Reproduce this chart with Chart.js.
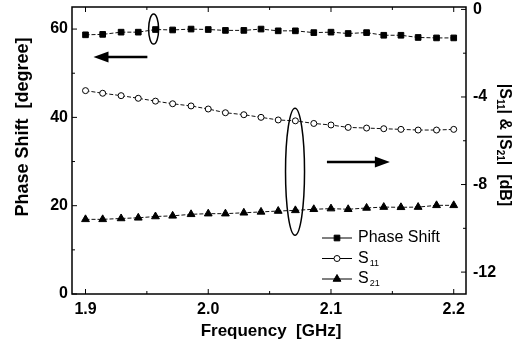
<!DOCTYPE html>
<html>
<head>
<meta charset="utf-8">
<script src="https://cdn.jsdelivr.net/npm/chart.js@4.4.0/dist/chart.umd.min.js"></script>
<style>
  html, body { margin: 0; padding: 0; background: #fff; }
  #wrap { width: 523px; height: 347px; position: relative; }
</style>
</head>
<body>
<div id="wrap"><canvas id="myChart"></canvas></div>
<script>
// frequency points (GHz)
const freqs = [1.900, 1.914, 1.929, 1.943, 1.957, 1.971, 1.986, 2.000, 2.014, 2.029, 2.043,
               2.057, 2.071, 2.086, 2.100, 2.114, 2.129, 2.143, 2.157, 2.171, 2.186, 2.200];
// phase shift, degree (left axis)
const phaseShift = [58.7, 58.8, 59.3, 59.3, 59.9, 59.8, 60.0, 59.9, 59.7, 59.7, 60.0,
                    59.6, 59.6, 59.2, 59.3, 59.0, 59.2, 58.6, 58.6, 58.1, 58.0, 58.0];
// |S11| dB (right axis)
const s11 = [-3.71, -3.83, -3.94, -4.06, -4.19, -4.31, -4.41, -4.55, -4.72, -4.81, -4.93,
             -5.05, -5.09, -5.21, -5.28, -5.39, -5.42, -5.45, -5.48, -5.51, -5.51, -5.48];
// |S21| dB (right axis)
const s21 = [-9.59, -9.59, -9.55, -9.52, -9.46, -9.43, -9.36, -9.33, -9.33, -9.29, -9.25,
             -9.21, -9.18, -9.13, -9.10, -9.13, -9.07, -9.03, -9.04, -9.03, -8.95, -8.95];

const xTicks = [1.9, 1.95, 2.0, 2.05, 2.1, 2.15, 2.2];
const leftTicks = [0, 10, 20, 30, 40, 50, 60];
const rightTicks = [0, -2, -4, -6, -8, -10, -12];

const FONT = "'Liberation Sans', Arial, sans-serif";

function pts(ys) {
    return freqs.map((f, i) => ({ x: f, y: ys[i] }));
}

function fixTicks(list) {
    return (scale) => { scale.ticks = list.map(v => ({ value: v })); };
}

// keep the plot box where the reference has it
function fitY(w) {
    return (s) => { s.width = w; s.paddingTop = 0; s.paddingBottom = 0; };
}

// frame, inward ticks, titles, custom legend, annotations
const decor = {
    id: 'decor',
    afterDraw(chart) {
        const ctx = chart.ctx;
        const a = chart.chartArea;
        const x = chart.scales.x, yl = chart.scales.y, yr = chart.scales.y2;
        ctx.save();
        ctx.strokeStyle = '#000';
        ctx.fillStyle = '#000';

        // box
        ctx.lineWidth = 1.5;
        ctx.strokeRect(a.left, a.top, a.right - a.left, a.bottom - a.top);

        // ticks pointing in
        ctx.lineWidth = 1;
        ctx.beginPath();
        xTicks.forEach(v => {
            const px = x.getPixelForValue(v);
            const len = Math.abs(v * 10 - Math.round(v * 10)) < 1e-6 ? 5 : 3;
            ctx.moveTo(px, a.bottom); ctx.lineTo(px, a.bottom - len);
            ctx.moveTo(px, a.top); ctx.lineTo(px, a.top + len);
        });
        leftTicks.forEach(v => {
            const py = yl.getPixelForValue(v);
            ctx.moveTo(a.left, py); ctx.lineTo(a.left + (v % 20 === 0 ? 5 : 3), py);
        });
        rightTicks.forEach(v => {
            const py = yr.getPixelForValue(v);
            ctx.moveTo(a.right, py); ctx.lineTo(a.right - (v % 4 === 0 ? 5 : 3), py);
        });
        ctx.stroke();

        // axis titles
        ctx.font = 'bold 17px ' + FONT;
        ctx.textAlign = 'center';
        ctx.textBaseline = 'middle';
        ctx.fillText('Frequency  [GHz]', (a.left + a.right) / 2 + 2, 331);

        ctx.save();
        ctx.translate(23, 127);
        ctx.rotate(-Math.PI / 2);
        ctx.font = 'bold 18px ' + FONT;
        ctx.fillText('Phase Shift  [degree]', 0, 0);
        ctx.restore();

        // right title with subscripts, reading top to bottom
        const parts = [['|S', 0], ['11', 1], ['| & |S', 0], ['21', 1], ['|  [dB]', 0]];
        const mainF = 'bold 16px ' + FONT, subF = 'bold 10px ' + FONT;
        let total = 0;
        parts.forEach(p => { ctx.font = p[1] ? subF : mainF; total += ctx.measureText(p[0]).width; });
        ctx.save();
        ctx.translate(504, 145);
        ctx.rotate(Math.PI / 2);
        ctx.textAlign = 'left';
        let cx = -total / 2;
        parts.forEach(p => {
            ctx.font = p[1] ? subF : mainF;
            ctx.fillText(p[0], cx, p[1] ? 4 : 0);
            cx += ctx.measureText(p[0]).width;
        });
        ctx.restore();

        // legend
        const rows = [238, 258.5, 279];
        chart.data.datasets.forEach((ds, i) => {
            const ry = rows[i];
            ctx.lineWidth = 1;
            ctx.strokeStyle = '#000';
            ctx.beginPath();
            ctx.moveTo(322, ry); ctx.lineTo(352, ry);
            ctx.stroke();
            ctx.fillStyle = ds.pointBackgroundColor;
            Chart.helpers.drawPoint(ctx, {
                pointStyle: ds.pointStyle, radius: ds.pointRadius,
                rotation: 0, borderWidth: ds.pointBorderWidth
            }, 337, ry);
            ctx.fillStyle = '#000';
            ctx.textAlign = 'left';
            ctx.textBaseline = 'middle';
            ctx.font = '16px ' + FONT;
            ctx.fillText(ds.label, 358, ry);
            if (ds.sub) {
                const w = ctx.measureText(ds.label).width;
                ctx.font = '9px ' + FONT;
                ctx.fillText(ds.sub, 358 + w + 1, ry + 5);
            }
        });

        // annotation ellipses and arrows
        ctx.lineWidth = 1.5;
        ctx.strokeStyle = '#000';
        ctx.beginPath();
        ctx.ellipse(x.getPixelForValue(1.9555), yl.getPixelForValue(60), 5, 15, 0, 0, Math.PI * 2);
        ctx.stroke();
        ctx.beginPath();
        ctx.ellipse(x.getPixelForValue(2.0707), yr.getPixelForValue(-7.41), 9.5, 63.5, 0, 0, Math.PI * 2);
        ctx.stroke();

        function arrow(x0, x1, py) {
            const dir = Math.sign(x1 - x0);
            ctx.lineWidth = 2.5;
            ctx.beginPath();
            ctx.moveTo(x0, py); ctx.lineTo(x1 - dir * 12, py);
            ctx.stroke();
            ctx.beginPath();
            ctx.moveTo(x1, py);
            ctx.lineTo(x1 - dir * 15, py - 5.5);
            ctx.lineTo(x1 - dir * 15, py + 5.5);
            ctx.closePath();
            ctx.fill();
        }
        ctx.fillStyle = '#000';
        arrow(x.getPixelForValue(1.9504), x.getPixelForValue(1.9065), yl.getPixelForValue(53.7));
        arrow(x.getPixelForValue(2.0967), x.getPixelForValue(2.148), yr.getPixelForValue(-6.97));

        ctx.restore();
    }
};

const tickFont = { family: FONT, size: 16, weight: 'bold' };
const noGrid = { display: false, drawTicks: false };

new Chart('myChart', {
    type: 'line',
    data: {
        datasets: [{
            label: 'Phase Shift',
            data: pts(phaseShift),
            yAxisID: 'y',
            borderColor: '#111',
            borderWidth: 1,
            borderDash: [4, 2],
            pointStyle: 'rect',
            pointRadius: 4,
            pointBorderWidth: 1,
            pointBackgroundColor: '#000',
            pointBorderColor: '#000'
        }, {
            label: 'S',
            sub: '11',
            data: pts(s11),
            yAxisID: 'y2',
            borderColor: '#111',
            borderWidth: 1,
            borderDash: [4, 2],
            pointStyle: 'circle',
            pointRadius: 3,
            pointBorderWidth: 1,
            pointBackgroundColor: '#fff',
            pointBorderColor: '#000'
        }, {
            label: 'S',
            sub: '21',
            data: pts(s21),
            yAxisID: 'y2',
            borderColor: '#111',
            borderWidth: 1,
            borderDash: [4, 2],
            pointStyle: 'triangle',
            pointRadius: 4.5,
            pointBorderWidth: 1,
            pointBackgroundColor: '#000',
            pointBorderColor: '#000'
        }]
    },
    options: {
        responsive: true,
        maintainAspectRatio: false,
        animation: false,
        layout: { padding: { top: 7, left: 0, right: 0, bottom: 0 } },
        plugins: {
            legend: { display: false },
            tooltip: { enabled: false }
        },
        scales: {
            x: {
                type: 'linear',
                min: 1.889,
                max: 2.21,
                afterBuildTicks: fixTicks(xTicks),
                afterFit: (s) => { s.height = 53; s.paddingLeft = 0; s.paddingRight = 0; },
                grid: noGrid,
                border: { display: false },
                ticks: {
                    color: '#000', font: tickFont, padding: 6, maxRotation: 0, autoSkip: false,
                    callback: (v) => Math.abs(v * 10 - Math.round(v * 10)) < 1e-6 ? v.toFixed(1) : ''
                }
            },
            y: {
                position: 'left',
                min: 0,
                max: 65,
                afterBuildTicks: fixTicks(leftTicks),
                afterFit: fitY(72),
                grid: noGrid,
                border: { display: false },
                ticks: {
                    color: '#000', font: tickFont, padding: 4, autoSkip: false,
                    callback: (v) => v % 20 === 0 ? String(v) : ''
                }
            },
            y2: {
                position: 'right',
                min: -13,
                max: 0.11,
                afterBuildTicks: fixTicks(rightTicks),
                afterFit: fitY(57),
                grid: noGrid,
                border: { display: false },
                ticks: {
                    color: '#000', font: tickFont, padding: 7, autoSkip: false,
                    callback: (v) => v % 4 === 0 ? String(v) : ''
                }
            }
        }
    },
    plugins: [decor]
});
</script>
</body>
</html>
